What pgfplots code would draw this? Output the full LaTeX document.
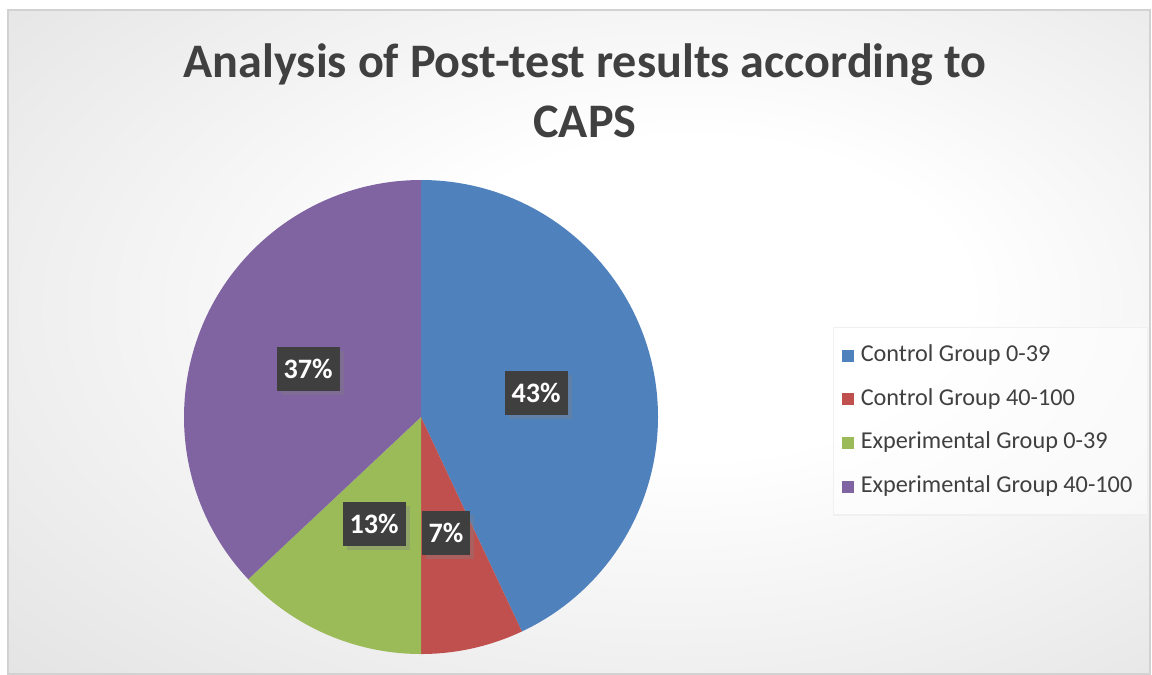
\documentclass[border=0pt]{standalone}
\usepackage{pgfplots}
\pgfplotsset{compat=1.18}
\usepackage{pgfplotstable}
\usepackage{fontspec}
\setmainfont{Carlito}
\usetikzlibrary{shadows}

\definecolor{cblue}{HTML}{4F81BD}
\definecolor{cred}{HTML}{C0504D}
\definecolor{cgreen}{HTML}{9BBB59}
\definecolor{cpurple}{HTML}{8064A2}
\definecolor{labgray}{HTML}{3F3F3F}
\definecolor{txtgray}{HTML}{404040}
\definecolor{bggray}{HTML}{C2C2C2}
\pgfdeclareradialshading{bgrad}{\pgfpoint{6bp}{4bp}}{color(0bp)=(white); color(12bp)=(white); color(72bp)=(bggray)}

\pgfplotstableread{
name value
CG039 43
CG40100 7
EG039 13
EG40100 37
}\piedata

\begin{document}
\begin{tikzpicture}
\pgfplotstablegetelem{0}{value}\of\piedata \pgfmathsetmacro\vA{\pgfplotsretval}
\pgfplotstablegetelem{1}{value}\of\piedata \pgfmathsetmacro\vB{\pgfplotsretval}
\pgfplotstablegetelem{2}{value}\of\piedata \pgfmathsetmacro\vC{\pgfplotsretval}
\pgfplotstablegetelem{3}{value}\of\piedata \pgfmathsetmacro\vD{\pgfplotsretval}
\pgfmathsetmacro\aA{90-3.6*\vA}
\pgfmathsetmacro\aB{\aA-3.6*\vB}
\pgfmathsetmacro\aC{\aB-3.6*\vC}
\pgfmathsetmacro\aD{\aC-3.6*\vD}
\begin{axis}[
  scale only axis, width=11.52cm, height=6.74cm,
  xmin=0, xmax=1152, ymin=0, ymax=674,
  hide axis, clip=false,
  legend style={at={(0.7231,0.5148)}, anchor=north west,
    fill=white, fill opacity=0.55, text opacity=1, draw=gray!12,
    font=\fontsize{6.9}{8.3}\selectfont, text=txtgray,
    inner xsep=0.08cm, inner ysep=0.1cm, row sep=0.075cm,
    cells={anchor=west}},
  legend image code/.code={\fill[#1, draw=none, fill opacity=1] (0.05cm,-0.06cm) rectangle (0.17cm,0.06cm);},
]
\fill[white] (axis cs:0,0) rectangle (axis cs:1152,674);
\shade[shading=bgrad] (axis cs:8,0) rectangle (axis cs:1150,664);
\draw[gray!35] (axis cs:8,0) rectangle (axis cs:1150,664);

\addlegendimage{fill=cblue}
\addlegendentry{Control Group 0-39}
\addlegendimage{fill=cred}
\addlegendentry{Control Group 40-100}
\addlegendimage{fill=cgreen}
\addlegendentry{Experimental Group 0-39}
\addlegendimage{fill=cpurple}
\addlegendentry{Experimental Group 40-100}

\fill[cblue] (axis cs:421,257) -- ++(90:2.37cm) arc[start angle=90, end angle=\aA, radius=2.37cm] -- cycle;
\fill[cred] (axis cs:421,257) -- ++(\aA:2.37cm) arc[start angle=\aA, end angle=\aB, radius=2.37cm] -- cycle;
\fill[cgreen] (axis cs:421,257) -- ++(\aB:2.37cm) arc[start angle=\aB, end angle=\aC, radius=2.37cm] -- cycle;
\fill[cpurple] (axis cs:421,257) -- ++(\aC:2.37cm) arc[start angle=\aC, end angle=\aD, radius=2.37cm] -- cycle;

\tikzset{lab/.style={fill=labgray, text=white, font=\fontsize{8}{9.5}\selectfont\bfseries,
  inner xsep=0.07cm, minimum height=0.4cm,
  drop shadow={shadow xshift=0.04cm, shadow yshift=-0.04cm, opacity=0.35}}}
\node[lab] at (axis cs:536,281) {43\%};
\node[lab] at (axis cs:446,141) {7\%};
\node[lab] at (axis cs:374,150) {13\%};
\node[lab] at (axis cs:308,305) {37\%};

\node[font=\fontsize{13.7}{16}\selectfont\bfseries, text=txtgray] at (axis cs:585,609) {Analysis of Post-test results according to};
\node[font=\fontsize{13.7}{16}\selectfont\bfseries, text=txtgray] at (axis cs:585,552) {CAPS};
\end{axis}
\end{tikzpicture}
\end{document}
